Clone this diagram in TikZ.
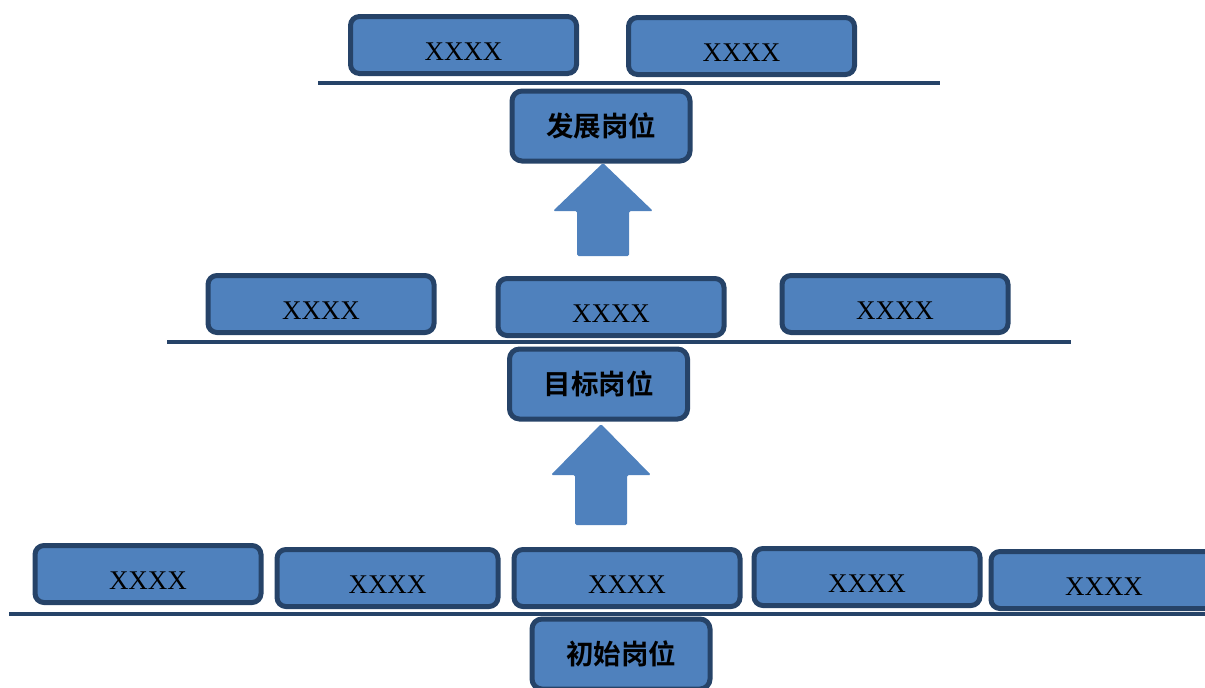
\documentclass[tikz,border=0pt]{standalone}
\usepackage{fontspec}
\setmainfont{Liberation Serif}
\newfontfamily\cjk{Noto Sans CJK SC}[BoldFont={Noto Sans CJK SC Bold}]
\definecolor{boxfill}{HTML}{4F81BD}
\definecolor{boxedge}{HTML}{264368}
\begin{document}
\begin{tikzpicture}[x=1pt,y=-1pt,
  xbox/.style={draw=boxedge,fill=boxfill,line width=5pt,rounded corners=9pt,
    minimum width=226pt,minimum height=57pt,inner sep=0pt,
    text height=31pt,text depth=0pt,
    font=\fontsize{27}{27}\selectfont},
  pbox/.style={draw=boxedge,fill=boxfill,line width=5pt,rounded corners=10pt,
    minimum width=178pt,minimum height=70pt,inner sep=0pt,
    font=\cjk\bfseries\fontsize{27.5}{27.5}\selectfont},
  baseline/.style={draw=boxedge,line width=4pt},
  uparrow/.style={fill=boxfill,rounded corners=1.5pt}]
\useasboundingbox (0,0) rectangle (1205,688);
% top level
\node[xbox] (t1) at (463.5,45) {XXXX};
\node[xbox] (t2) at (741.5,46) {XXXX};
\coordinate (tl) at (318,83); \coordinate (tr) at (940,83);
\draw[baseline] (tl) -- (tr);
\node[pbox] (dev) at (601,126) {发展岗位};
% arrow 1
\fill[uparrow] (603,163) -- (653,211) -- (629,211) -- (629,256) -- (577,256) -- (577,211) -- (553,211) -- cycle;
% middle level
\node[xbox] (m1) at (321,304) {XXXX};
\node[xbox] (m2) at (611,307) {XXXX};
\node[xbox] (m3) at (895,304) {XXXX};
\coordinate (ml) at (167,342); \coordinate (mr) at (1071,342);
\draw[baseline] (ml) -- (mr);
\node[pbox] (tgt) at (598.5,384) {目标岗位};
% arrow 2
\fill[uparrow] (601,424) -- (651,475) -- (627,475) -- (627,525) -- (575,525) -- (575,475) -- (551,475) -- cycle;
% bottom level
\node[xbox] (b1) at (148,574) {XXXX};
\node[xbox,minimum width=221pt] (b2) at (387.5,578) {XXXX};
\node[xbox] (b3) at (627,578) {XXXX};
\node[xbox] (b4) at (867,577) {XXXX};
\node[xbox] (b5) at (1104,580) {XXXX};
\coordinate (bl) at (9,614); \coordinate (br) at (1210,614);
\draw[baseline] (bl) -- (br);
\node[pbox] (init) at (621,654) {初始岗位};
\end{tikzpicture}
\end{document}
